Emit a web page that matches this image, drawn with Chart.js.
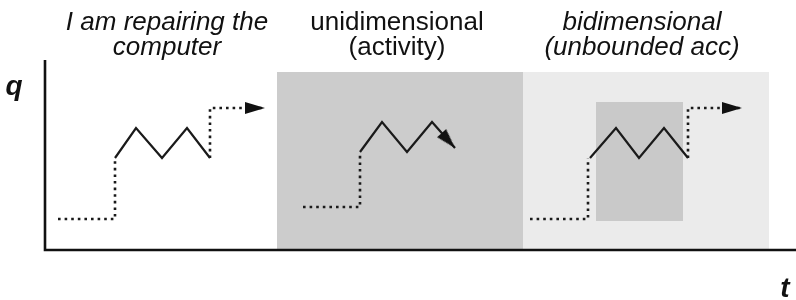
<!doctype html>
<html>
<head>
  <meta charset="utf-8">
  <title>Activity types</title>
  <style>
    html, body { margin:0; background:#fff; overflow:hidden; }
    canvas { display:block; }
  </style>
  <script src="https://cdn.jsdelivr.net/npm/chart.js"></script>
</head>
<body>
  <canvas id="diagram" width="796" height="300"></canvas>

  <script>
    // panel titles (two lines each) and their centre on the t axis
    const panelTitles = [
      ['I am repairing the', 'computer'],
      ['unidimensional', '(activity)'],
      ['bidimensional', '(unbounded acc)']
    ];
    const titleItalic = [true, false, true];
    const titleCentres = [122, 352, 597];

    // shaded panels: t start, t end, q top
    const panelStart = [232, 478];
    const panelEnd = [478, 724];
    const panelTop = 178;
    const panelColors = ['#cccccc', '#ebebeb'];

    // inner box in the third panel
    const boxT = [551, 638];
    const boxQ = [29, 148];

    // axis extents
    const tMax = 751;
    const qMax = 190;

    // panel 1
    const p1WaitT = [13, 70, 70];
    const p1WaitQ = [31, 31, 92];
    const p1WorkT = [70, 91, 117, 142, 165];
    const p1WorkQ = [92, 122, 92, 122, 92];
    const p1NextT = [165, 165, 220];
    const p1NextQ = [92, 142, 142];

    // panel 2
    const p2WaitT = [258, 315, 315];
    const p2WaitQ = [43, 43, 98];
    const p2WorkT = [315, 337, 362, 387, 410];
    const p2WorkQ = [98, 128, 98, 128, 102];

    // panel 3
    const p3WaitT = [485, 543, 543];
    const p3WaitQ = [31, 31, 92];
    const p3WorkT = [545, 571, 594, 619, 643];
    const p3WorkQ = [92, 122, 92, 122, 92];
    const p3NextT = [643, 643, 697];
    const p3NextQ = [92, 142, 142];

    const pts = (ts, qs) => ts.map((t, i) => ({ x: t, y: qs[i] }));

    // arrow head image, tip at the centre of the canvas, pointing right
    const head = document.createElement('canvas');
    head.width = 44; head.height = 14;
    const hc = head.getContext('2d');
    hc.fillStyle = '#111';
    hc.beginPath();
    hc.moveTo(2, 1); hc.lineTo(22, 7); hc.lineTo(2, 13); hc.closePath();
    hc.fill();

    function path(data, dotted, arrowRot) {
      const last = data.length - 1;
      return {
        data: data,
        borderColor: '#1a1a1a',
        borderWidth: dotted ? 2.6 : 2.2,
        borderDash: dotted ? [2.6, 4] : [],
        borderJoinStyle: 'miter',
        fill: false,
        tension: 0,
        order: 1,
        pointRadius: c => (arrowRot !== undefined && c.dataIndex === last) ? 5 : 0,
        pointStyle: c => (c.dataIndex === last ? head : 'circle'),
        pointRotation: arrowRot || 0
      };
    }

    function axis(data) {
      return { data: data, borderColor: '#111', borderWidth: 2.6, pointRadius: 0, fill: false, clip: false, order: 0 };
    }

    const datasets = [
      axis([{ x: 0, y: qMax }, { x: 0, y: 0 }, { x: tMax, y: 0 }]),
      path(pts(p1WaitT, p1WaitQ), true),
      path(pts(p1WorkT, p1WorkQ), false),
      path(pts(p1NextT, p1NextQ), true, 0),
      path(pts(p2WaitT, p2WaitQ), true),
      path(pts(p2WorkT, p2WorkQ), false, 48),
      path(pts(p3WaitT, p3WaitQ), true),
      path(pts(p3WorkT, p3WorkQ), false),
      path(pts(p3NextT, p3NextQ), true, 0),
      {
        data: [{ x: boxT[0], y: boxQ[1] }, { x: boxT[1], y: boxQ[1] }],
        fill: { value: boxQ[0] }, backgroundColor: '#c9c9c9', borderWidth: 0, pointRadius: 0, order: 5
      }
    ];
    panelStart.forEach((s, i) => {
      datasets.push({
        data: [{ x: s, y: panelTop }, { x: panelEnd[i], y: panelTop }],
        fill: 'origin', backgroundColor: panelColors[i], borderWidth: 0, pointRadius: 0, order: 10
      });
    });

    const labels = {
      id: 'labels',
      afterDraw(chart) {
        const { ctx, scales: { x, y } } = chart;
        ctx.save();
        ctx.fillStyle = '#111';
        ctx.textAlign = 'center';
        ctx.textBaseline = 'alphabetic';
        panelTitles.forEach((lines, i) => {
          ctx.font = (titleItalic[i] ? 'italic ' : '') + '26px "Liberation Sans", Arial, sans-serif';
          lines.forEach((s, j) => {
            ctx.fillText(s, x.getPixelForValue(titleCentres[i]), y.getPixelForValue(220 - j * 25));
          });
        });
        ctx.font = 'italic bold 28px "Liberation Sans", Arial, sans-serif';
        ctx.fillText('q', x.getPixelForValue(-31), y.getPixelForValue(155));
        ctx.fillText('t', x.getPixelForValue(740), y.getPixelForValue(-47));
        ctx.restore();
      }
    };

    new Chart(document.getElementById('diagram'), {
      type: 'line',
      data: { datasets: datasets },
      options: {
        responsive: false,
        animation: false,
        events: [],
        layout: { autoPadding: false, padding: { left: 45, right: 0, top: 60, bottom: 50 } },
        plugins: { legend: { display: false }, tooltip: { enabled: false } },
        scales: {
          x: { type: 'linear', min: 0, max: tMax, display: false },
          y: { type: 'linear', min: 0, max: qMax, display: false }
        }
      },
      plugins: [labels]
    });
  </script>
</body>
</html>
